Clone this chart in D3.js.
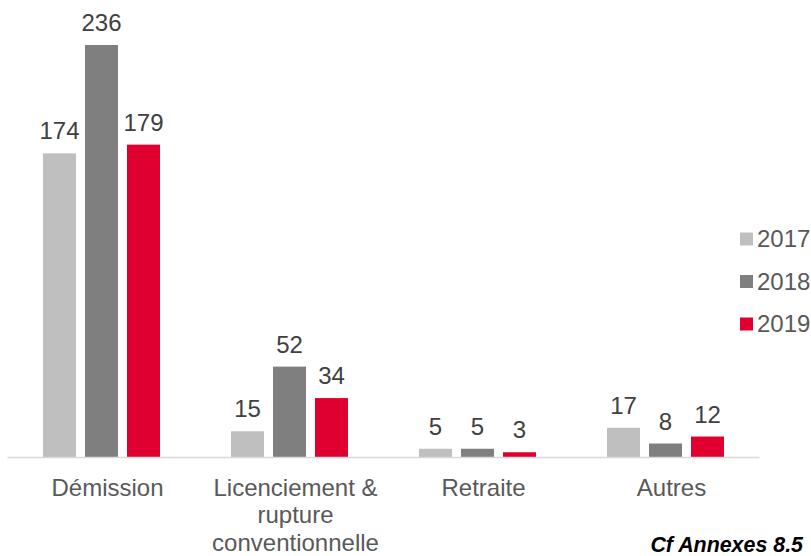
<!DOCTYPE html>
<html><head><meta charset="utf-8">
<script src="https://cdn.jsdelivr.net/npm/d3@7"></script>
<style>body{margin:0;background:#fff}svg{display:block;font-family:"Liberation Sans",Arial,sans-serif}</style>
</head><body><svg id="c" width="811" height="556"></svg>
<script>
const categories = [["Démission"], ["Licenciement &", "rupture", "conventionnelle"], ["Retraite"], ["Autres"]];
const years = ["2017", "2018", "2019"];
const v2017 = [174, 15, 5, 17];
const v2018 = [236, 52, 5, 8];
const v2019 = [179, 34, 3, 12];
const colors = ["#bfbfbf", "#7f7f7f", "#e0002f"];
const note = "Cf Annexes 8.5";

const series = [v2017, v2018, v2019];
const svg = d3.select("#c");
const baseY = 457.5;
const x = d3.scaleBand().domain(d3.range(categories.length)).range([7.5, 759.5]).padding(0);
const y = d3.scaleLinear().domain([0, 236]).range([baseY, 45]);
const sub = d3.scaleBand().domain(d3.range(years.length)).range([-58.5, 58.5]).paddingInner(9/42).paddingOuter(0);

const g = svg.append("g");
series.forEach((vals, si) => {
  vals.forEach((v, ci) => {
    const cx = x(ci) + x.bandwidth() / 2;
    g.append("rect")
      .attr("x", cx + sub(si))
      .attr("width", sub.bandwidth())
      .attr("y", y(v))
      .attr("height", baseY - y(v))
      .attr("fill", colors[si]);
    g.append("text")
      .attr("x", cx + sub(si) + sub.bandwidth() / 2)
      .attr("y", y(v) - 14)
      .attr("text-anchor", "middle")
      .attr("font-size", 24)
      .attr("fill", "#404040")
      .text(v);
  });
});

svg.append("line").attr("x1", 7.5).attr("x2", 759.5).attr("y1", baseY).attr("y2", baseY)
  .attr("stroke", "#d9d9d9").attr("stroke-width", 1.5);

categories.forEach((lines, ci) => {
  const t = svg.append("text").attr("text-anchor", "middle").attr("font-size", 24).attr("fill", "#595959");
  lines.forEach((ln, li) => {
    t.append("tspan").attr("x", x(ci) + x.bandwidth() / 2 + 6).attr("y", 495.5 + li * 27.5).text(ln);
  });
});

const leg = svg.append("g");
years.forEach((yr, i) => {
  const cy = 239 + i * 42.5;
  leg.append("rect").attr("x", 740).attr("y", cy - 6.5).attr("width", 13).attr("height", 13).attr("fill", colors[i]);
  leg.append("text").attr("x", 757).attr("y", cy).attr("dy", "0.35em").attr("font-size", 24).attr("fill", "#595959").text(yr);
});

svg.append("text").attr("x", 803).attr("y", 552).attr("text-anchor", "end")
  .attr("font-size", 21.4).attr("font-weight", "bold").attr("font-style", "italic").attr("fill", "#000").text(note);
</script></body></html>
